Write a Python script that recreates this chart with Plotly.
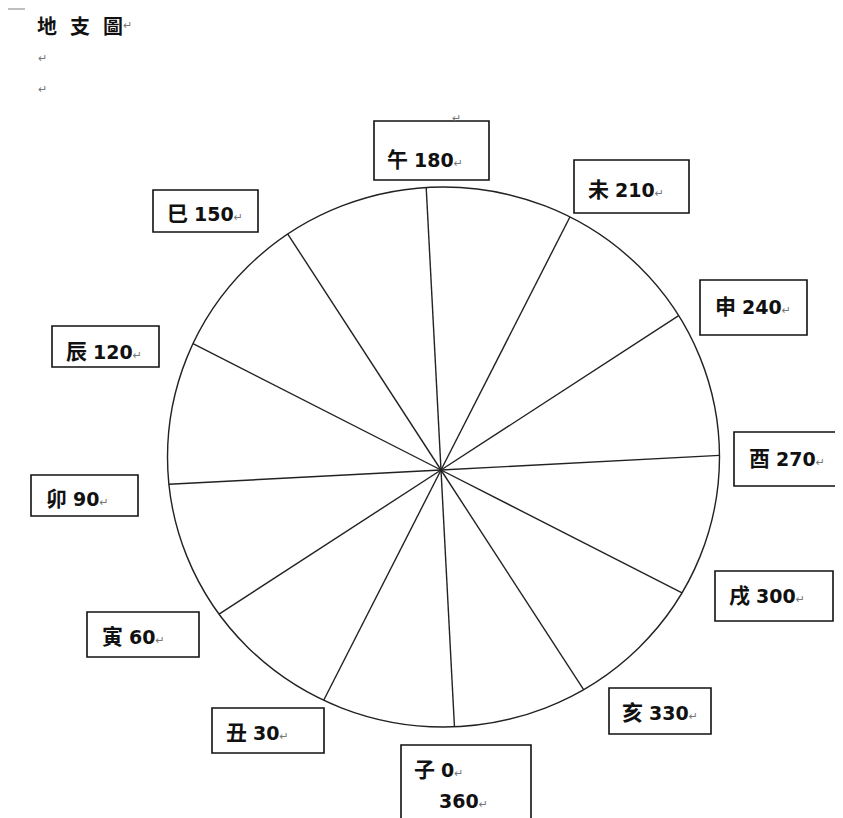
import math
import plotly.graph_objects as go

# ---- data ----
branches = ['子', '丑', '寅', '卯', '辰', '巳', '午', '未', '申', '酉', '戌', '亥']
degrees = [0, 30, 60, 90, 120, 150, 180, 210, 240, 270, 300, 330]
extra_label = {'子': '360'}
title_chars = ['地', '支', '圖']

# ---- layout geometry (pixel space) ----
W, H = 843, 818
OFF = 8                        # page body margin
hub = (441, 470)               # where the spokes meet
circ_c = (443.5, 457)          # centre of the drawn circle
circ_r = (276, 270)            # radii of the drawn circle
rot0 = -87                     # screen angle (math convention) of 0 deg

# label box: x0, y0, x1, y1, text_x, text_y
label_pos = {
    '午': (374, 121, 489, 180, 385, 158),
    '未': (574, 160, 689, 213, 586, 188),
    '申': (700, 280, 807, 335, 713, 305),
    '酉': (734, 432, 842, 486, 747, 457),
    '戌': (715, 571, 833, 621, 727, 594),
    '亥': (609, 688, 711, 734, 620, 711),
    '子': (401, 745, 531, 830, 412, 768),
    '丑': (212, 708, 324, 753, 224, 731),
    '寅': (87, 612, 199, 657, 100, 635),
    '卯': (31, 475, 138, 516, 44, 497),
    '辰': (52, 326, 159, 367, 64, 350),
    '巳': (153, 190, 258, 232, 165, 212),
}

CJK = 'Noto Sans CJK TC'
NUM = 'DejaVu Sans'
RET = "<span style='font-size:11px;font-weight:normal;color:#777'>↵</span>"


def spoke_end(deg):
    a = math.radians(rot0 - deg)
    ux, uy = math.cos(a), -math.sin(a)
    px, py = hub[0] - circ_c[0], hub[1] - circ_c[1]
    rx, ry = circ_r
    A = (ux / rx) ** 2 + (uy / ry) ** 2
    B = 2 * (px * ux / rx ** 2 + py * uy / ry ** 2)
    C = (px / rx) ** 2 + (py / ry) ** 2 - 1
    t = (-B + math.sqrt(B * B - 4 * A * C)) / (2 * A)
    return hub[0] + t * ux, hub[1] + t * uy


xs, ys = [], []
for d in degrees:
    ex, ey = spoke_end(d)
    xs += [hub[0], ex, None]
    ys += [hub[1], ey, None]

fig = go.Figure()
fig.add_trace(go.Scatter(x=xs, y=ys, mode='lines',
                         line=dict(color='#222', width=1.4),
                         hoverinfo='skip', showlegend=False))

shapes = [dict(type='circle', xref='x', yref='y',
               x0=circ_c[0] - circ_r[0], x1=circ_c[0] + circ_r[0],
               y0=circ_c[1] - circ_r[1], y1=circ_c[1] + circ_r[1],
               line=dict(color='#222', width=1.4)),
          dict(type='line', xref='x', yref='y', x0=OFF, x1=25, y0=9, y1=9,
               line=dict(color='#aaa', width=1.5))]

annotations = []
for b, d in zip(branches, degrees):
    x0, y0, x1, y1, tx, ty = label_pos[b]
    shapes.append(dict(type='rect', xref='x', yref='y', x0=x0, x1=x1, y0=y0, y1=y1,
                       line=dict(color='#111', width=1.6), fillcolor='white', layer='above'))
    txt = (f"<span style='font-family:{CJK};font-size:21px'><b>{b}</b></span> "
           f"<b>{d}</b>{RET}")
    annotations.append(dict(x=tx, y=ty, xref='x', yref='y', text=txt, showarrow=False,
                            xanchor='left', yanchor='middle',
                            font=dict(family=NUM, size=19, color='#111')))
    if b in extra_label:
        annotations.append(dict(x=tx + 25, y=ty + 33, xref='x', yref='y',
                                text=f"<b>{extra_label[b]}</b>{RET}", showarrow=False,
                                xanchor='left', yanchor='middle',
                                font=dict(family=NUM, size=19, color='#111')))

# title (spaced characters) and paragraph marks
for i, ch in enumerate(title_chars):
    annotations.append(dict(x=35 + i * 33, y=25, xref='x', yref='y', text=f'<b>{ch}</b>',
                            showarrow=False, xanchor='left', yanchor='middle',
                            font=dict(family=CJK, size=20, color='#111')))
annotations.append(dict(x=121, y=24, xref='x', yref='y', text='↵',
                        showarrow=False, xanchor='left', yanchor='middle',
                        font=dict(family=CJK, size=11, color='#777')))
for py in (57, 88):
    annotations.append(dict(x=36, y=py, xref='x', yref='y', text='↵',
                            showarrow=False, xanchor='left', yanchor='middle',
                            font=dict(family=CJK, size=11, color='#777')))
annotations.append(dict(x=450, y=117, xref='x', yref='y', text='↵',
                        showarrow=False, xanchor='left', yanchor='middle',
                        font=dict(family=CJK, size=11, color='#777')))

fig.update_layout(
    width=W - OFF, height=H - OFF,
    margin=dict(l=0, r=0, t=0, b=0),
    paper_bgcolor='white', plot_bgcolor='white',
    xaxis=dict(range=[OFF, W], visible=False, fixedrange=True),
    yaxis=dict(range=[H, OFF], visible=False, fixedrange=True),
    shapes=shapes, annotations=annotations,
)

fig.write_html('out.html')
